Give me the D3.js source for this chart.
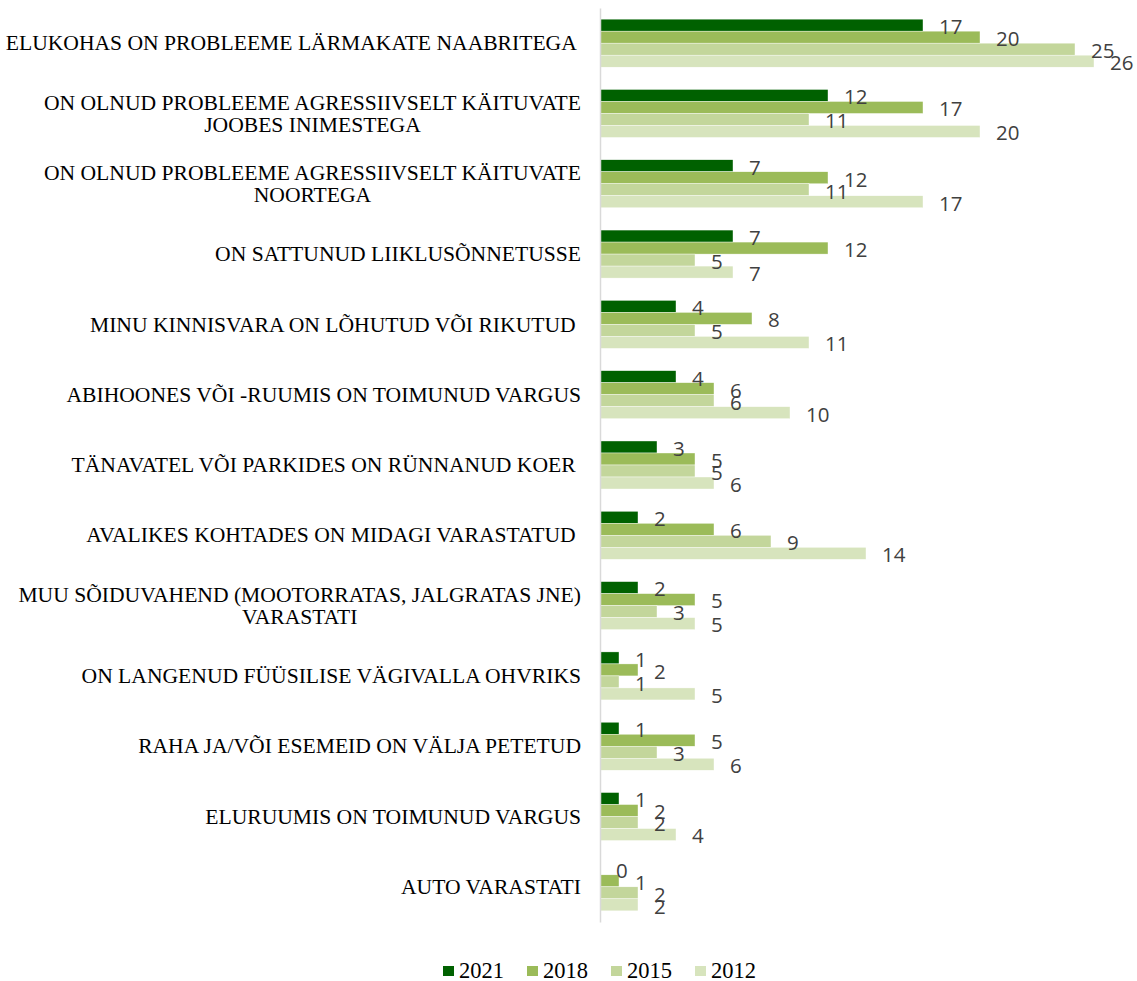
<!DOCTYPE html>
<html>
<head>
<meta charset="utf-8">
<script src="https://cdn.jsdelivr.net/npm/d3@7/dist/d3.min.js"></script>
<style>
  html, body { margin: 0; padding: 0; background: #fff; }
  svg { display: block; }
</style>
</head>
<body>
<svg id="chart" width="1137" height="981"></svg>
<script>
// ---- data ----
const categories = [
  "ELUKOHAS ON PROBLEEME LÄRMAKATE NAABRITEGA ",
  "ON OLNUD PROBLEEME AGRESSIIVSELT KÄITUVATE\nJOOBES INIMESTEGA",
  "ON OLNUD PROBLEEME AGRESSIIVSELT KÄITUVATE\nNOORTEGA",
  "ON SATTUNUD LIIKLUSÕNNETUSSE",
  "MINU KINNISVARA ON LÕHUTUD VÕI RIKUTUD ",
  "ABIHOONES VÕI -RUUMIS ON TOIMUNUD VARGUS",
  "TÄNAVATEL VÕI PARKIDES ON RÜNNANUD KOER ",
  "AVALIKES KOHTADES ON MIDAGI VARASTATUD ",
  "MUU SÕIDUVAHEND (MOOTORRATAS, JALGRATAS JNE)\nVARASTATI",
  "ON LANGENUD FÜÜSILISE VÄGIVALLA OHVRIKS",
  "RAHA JA/VÕI ESEMEID ON VÄLJA PETETUD",
  "ELURUUMIS ON TOIMUNUD VARGUS",
  "AUTO VARASTATI"
];
const seriesNames = ["2021", "2018", "2015", "2012"];
const values2021 = [17, 12, 7, 7, 4, 4, 3, 2, 2, 1, 1, 1, 0];
const values2018 = [20, 17, 12, 12, 8, 6, 5, 6, 5, 2, 5, 2, 1];
const values2015 = [25, 11, 11, 5, 5, 6, 5, 9, 3, 1, 3, 2, 2];
const values2012 = [26, 20, 17, 7, 11, 10, 6, 14, 5, 5, 6, 4, 2];
const seriesColors = ["#006100", "#9BBB59", "#C3D69B", "#D7E4BD"];

const seriesValues = [values2021, values2018, values2015, values2012];
const rows = categories.map((c, i) => ({
  cat: c,
  vals: seriesNames.map((s, j) => ({ series: s, value: seriesValues[j][i], color: seriesColors[j] }))
}));

// ---- layout ----
const svg = d3.select("#chart");
const plotLeft = 600, plotTop = 8, plotBottom = 922;
const xMax = 26;
const x = d3.scaleLinear().domain([0, xMax]).range([plotLeft, plotLeft + 494]);
const y = d3.scaleBand().domain(categories).range([plotTop, plotBottom])
  .paddingInner(0.317).paddingOuter(0.1585);
const ySub = d3.scaleBand().domain(seriesNames).range([0, y.bandwidth()]).padding(0);

// bars
const groups = svg.append("g").selectAll("g").data(rows).join("g")
  .attr("transform", d => `translate(0,${y(d.cat)})`);

groups.selectAll("rect").data(d => d.vals).join("rect")
  .attr("x", x(0))
  .attr("y", d => ySub(d.series))
  .attr("width", d => x(d.value) - x(0))
  .attr("height", ySub.bandwidth())
  .attr("fill", d => d.color)
  .attr("stroke", "#ffffff")
  .attr("stroke-width", 0.4);

// axis line (category axis)
const yAxis = d3.axisLeft(y).tickSize(0).tickFormat("");
svg.append("g").attr("transform", `translate(${plotLeft},0)`).call(yAxis)
  .call(g => g.select(".domain").attr("stroke", "#d9d9d9").attr("stroke-width", 1.5));

// value labels
groups.selectAll("text.val").data(d => d.vals).join("text")
  .attr("class", "val")
  .attr("x", d => x(d.value) + 16)
  .attr("y", d => ySub(d.series) + ySub.bandwidth() / 2 + 1.5)
  .attr("dy", "0.36em")
  .attr("font-family", "'Open Sans', sans-serif")
  .attr("font-size", 20.5)
  .attr("fill", "#404040")
  .text(d => d.value);

// category labels
const labelRight = 581;
const lineH = 22;
const catG = svg.append("g")
  .attr("font-family", "'Liberation Serif', 'Times New Roman', serif")
  .attr("font-size", 21.6)
  .attr("fill", "#000");

rows.forEach(r => {
  const lines = r.cat.split("\n");
  const cy = y(r.cat) + y.bandwidth() / 2;
  const t = catG.append("text").attr("xml:space", "preserve").style("white-space", "pre");
  if (lines.length === 1) {
    t.attr("text-anchor", "end").attr("x", labelRight).attr("y", cy).attr("dy", "0.33em").text(lines[0]);
  } else {
    const spans = lines.map((ln, i) => t.append("tspan")
      .attr("y", cy + (i - (lines.length - 1) / 2) * lineH)
      .attr("dy", "0.33em")
      .text(ln));
    const maxW = d3.max(spans, s => s.node().getComputedTextLength());
    t.attr("text-anchor", "middle");
    spans.forEach(s => s.attr("x", labelRight - maxW / 2));
  }
});

// legend
const legend = svg.append("g").attr("transform", "translate(443,970)");
const legItems = legend.selectAll("g").data(seriesNames).join("g")
  .attr("transform", (d, i) => `translate(${i * 84},0)`);
legItems.append("rect").attr("x", 0).attr("y", -4).attr("width", 11).attr("height", 10)
  .attr("fill", (d, i) => seriesColors[i]);
legItems.append("text").attr("x", 16).attr("y", 0).attr("dy", "0.35em")
  .attr("font-family", "'Liberation Serif', 'Times New Roman', serif")
  .attr("font-size", 22.5).attr("fill", "#000")
  .text(d => d);
</script>
</body>
</html>
